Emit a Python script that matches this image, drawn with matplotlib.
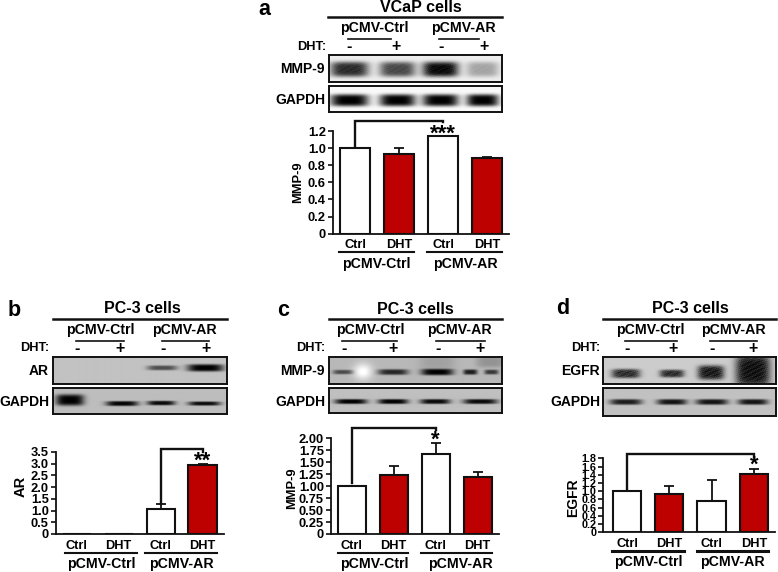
import numpy as np
import matplotlib
matplotlib.use("Agg")
import matplotlib.pyplot as plt

plt.rcParams['font.family'] = ['Liberation Sans', 'DejaVu Sans']
plt.rcParams['font.weight'] = 'bold'

W, H = 778, 572
RED = '#bd0000'
DARK = '#111111'

# Data
categories = ['Ctrl', 'DHT', 'Ctrl', 'DHT']
groups = ['pCMV-Ctrl', 'pCMV-AR']

a_values = [1.0, 0.93, 1.14, 0.89]
a_errors = [0.0, 0.07, 0.005, 0.005]
a_ticks = ['0', '0.2', '0.4', '0.6', '0.8', '1.0', '1.2']

b_values = [0.0, 0.0, 1.08, 2.93]
b_errors = [0.0, 0.0, 0.19, 0.07]
b_ticks = ['0', '0.5', '1.0', '1.5', '2.0', '2.5', '3.0', '3.5']

c_values = [1.01, 1.23, 1.67, 1.20]
c_errors = [0.0, 0.20, 0.23, 0.09]
c_ticks = ['0', '0.25', '0.50', '0.75', '1.00', '1.25', '1.50', '1.75', '2.00']

d_values = [1.0, 0.92, 0.76, 1.43]
d_errors = [0.0, 0.21, 0.52, 0.10]
d_ticks = ['0', '0.2', '0.4', '0.6', '0.8', '1.0', '1.2', '1.4', '1.6', '1.8']

# band darkness per lane in the blots
a_mmp9_bands = [0.85, 0.72, 1.0, 0.32]
a_gapdh_bands = [1.0, 1.0, 1.0, 1.0]
b_ar_bands = [0.0, 0.0, 0.6, 1.0]
b_gapdh_bands = [1.0, 0.98, 0.95, 0.95]
c_mmp9_bands = [0.6, 0.8, 1.0, 0.85]
c_gapdh_bands = [1.0, 1.0, 0.95, 0.95]
d_egfr_bands = [0.85, 0.85, 0.95, 1.0]
d_gapdh_bands = [0.85, 0.9, 0.9, 0.9]


def pixel_axes(x0, y0, x1, y1):
    return fig.add_axes([x0 / W, 1 - y1 / H, (x1 - x0) / W, (y1 - y0) / H])


# one grey blot strip, bands are (centre x, centre y, half width, half height, darkness)
def draw_blot(box, background, bands, lights=(), grain=0.0):
    x0, y0, x1, y1 = box
    xs, ys = np.meshgrid(np.arange(x0, x1, 0.5), np.arange(y0, y1, 0.5))
    img = np.full(xs.shape, background, dtype=float)
    # speckle from crossed sine waves
    speck = np.sin(xs * 2.3 + ys * 1.1) * np.sin(xs * 1.1 - ys * 2.7) * np.sin(xs * 0.37 + ys * 0.71)
    for cx, cy, hw, hh, dark in bands:
        blob = np.exp(-((xs - cx) / hw) ** 4) * np.exp(-((ys - cy) / hh) ** 4)
        blob = np.clip(blob * (1 + grain * speck), 0, 1)
        img = img * (1 - dark * blob)
    for cx, cy, hw, hh, gain in lights:
        blob = np.exp(-((xs - cx) / hw) ** 2) * np.exp(-((ys - cy) / hh) ** 2)
        img = img + gain * blob
    ax = pixel_axes(x0, y0, x1, y1)
    ax.imshow(np.clip(img, 0, 1), cmap='gray', vmin=0, vmax=1, aspect='auto',
              interpolation='bilinear')
    ax.set_xticks([])
    ax.set_yticks([])
    for s in ax.spines.values():
        s.set_linewidth(1.4)
        s.set_color(DARK)


# header above the blots: cell line, plasmid names and DHT signs
def draw_header(letter, letter_x, letter_y, title, title_x, title_y, line_y, line_x,
                names_x, names_y, under_y, under_x, dht_x, dht_y, signs_x):
    over.text(letter_x, letter_y, letter, fontsize=15.5, ha='center', va='baseline')
    over.text(title_x, title_y, title, fontsize=11.5, ha='center', va='center')
    over.plot(line_x, [line_y, line_y], color=DARK, lw=1.8)
    for n, x in zip(groups, names_x):
        over.text(x, names_y, n, fontsize=10.2, ha='center', va='center')
    for xs in under_x:
        over.plot(xs, [under_y, under_y], color=DARK, lw=1.2)
    over.text(dht_x, dht_y, 'DHT:', fontsize=9.2, ha='right', va='center')
    for s, x in zip(['-', '+', '-', '+'], signs_x):
        over.text(x, dht_y, s, fontsize=11.5, ha='center', va='center')


# bar chart under the blots
def draw_bars(box, values, errors, ticks, step, ylabel, label_x, label_y, label_size, xlim,
              bracket, star, star_y, group_lines, group_x, line_y, group_y,
              tick_size=9.3, line_lw=1.5):
    ax = pixel_axes(*box)
    pos = np.arange(len(values))
    colors = ['white', RED, 'white', RED]
    ax.bar(pos, values, width=0.67, color=colors, edgecolor=DARK, linewidth=1.5, zorder=2)
    for p, v, e in zip(pos, values, errors):
        if v > 0:
            ax.errorbar(p, v, yerr=[[0], [e]], color=DARK, capsize=3.5, lw=1.3,
                        capthick=1.3, zorder=1)
    ax.set_xlim(*xlim)
    ax.set_ylim(0, step * (len(ticks) - 1))
    ax.set_yticks(step * np.arange(len(ticks)))
    ax.set_yticklabels(ticks, fontsize=tick_size)
    ax.set_xticks(pos)
    ax.set_xticklabels(categories, fontsize=9.2)
    ax.tick_params(axis='x', length=0, pad=4)
    ax.tick_params(axis='y', length=3.5, width=1.2, pad=1.5, color=DARK)
    ax.patch.set_alpha(0)
    for s in ['top', 'right']:
        ax.spines[s].set_visible(False)
    for s in ['left', 'bottom']:
        ax.spines[s].set_linewidth(1.3)
        ax.spines[s].set_color(DARK)

    bx0, bx1, low, high, tail = bracket
    ax.plot([bx0, bx0, bx1, bx1], [low, high, high, tail], color=DARK, lw=1.7,
            clip_on=False, solid_joinstyle='miter', zorder=3)
    ax.text(bx1, star_y, star, fontsize=16, ha='center', va='center', clip_on=False)

    over.text(label_x, label_y, ylabel, fontsize=label_size, rotation=90,
              ha='center', va='center')
    for xs in group_lines:
        over.plot(xs, [line_y, line_y], color=DARK, lw=line_lw)
    for n, x in zip(groups, group_x):
        over.text(x, group_y, n, fontsize=10.2, ha='center', va='center')


fig = plt.figure(figsize=(W / 100, H / 100), dpi=100, facecolor='white')
over = fig.add_axes([0, 0, 1, 1])
over.set_xlim(0, W)
over.set_ylim(H, 0)
over.axis('off')
over.set_zorder(5)

# ---- panel a
draw_header('a', 264.5, 15, 'VCaP cells', 421, 8, 16.7, [328, 502], [374, 463], 28.3, 39,
            [[348, 391], [439, 479]], 326, 47, [349, 396, 441, 484])
over.text(325, 69, 'MMP-9', fontsize=10, ha='right', va='center')
over.text(325, 100, 'GAPDH', fontsize=10, ha='right', va='center')
lanes = [349, 397, 440, 482]
widths = [19, 18, 18, 16]
draw_blot((328.7, 55, 501.7, 81.7), 0.93,
          [(x, 69, w, 7.5, d) for x, w, d in zip(lanes, widths, a_mmp9_bands)], grain=0.35)
draw_blot((328.7, 86, 501.7, 111.7), 0.98,
          [(x, 100, w, 6, d) for x, w, d in zip(lanes, widths, a_gapdh_bands)])
draw_bars((332.7, 131, 508.7, 233.7), a_values, a_errors, a_ticks, 0.2, 'MMP-9', 298, 181.7, 9.3,
          (-0.507, 3.49), (0, 2, 1.02, 1.32, 1.30), '***', 1.16,
          [[339.3, 414.3], [426.7, 502.3]], [376, 465], 251.7, 264)

# ---- panel b
draw_header('b', 14, 315.7, 'PC-3 cells', 142, 308.3, 318.7, [53.3, 226.7], [100, 184], 329.7, 341.3,
            [[76, 124.3], [161.7, 209.3]], 49.3, 348.3, [77, 120, 163, 205.7])
over.text(49, 371, 'AR', fontsize=10, ha='right', va='center')
over.text(49, 402, 'GAPDH', fontsize=10, ha='right', va='center')
lanes = [162, 205]
draw_blot((53.3, 356.7, 226.7, 384.3), 0.76,
          [(x, 368.3, w, h, d) for x, w, h, d in
           zip(lanes, [15, 18], [2.4, 3.6], b_ar_bands[2:])])
draw_blot((53.3, 388, 226.7, 414.3), 0.74,
          [(x, y, w, h, d) for x, y, w, h, d in
           zip([70, 122, 161, 204], [400.5, 404, 403.5, 404], [14, 16, 14, 16],
               [5.5, 2.4, 2.2, 2], b_gapdh_bands)])
draw_bars((55.7, 452, 223.5, 534), b_values, b_errors, b_ticks, 0.5, 'AR', 21, 486.7, 10.5,
          (-0.5, 3.5), (2, 3, 1.30, 3.63, 3.50), '**', 3.1,
          [[65, 137], [145, 217]], [101, 181], 553, 564)

# ---- panel c
draw_header('c', 283, 315.7, 'PC-3 cells', 415.7, 309, 318.7, [329, 502], [370, 459.3], 329.7, 341,
            [[342.3, 397], [435.7, 484.7]], 325, 348.3, [344, 393.3, 437.7, 480])
over.text(325, 371, 'MMP-9', fontsize=10, ha='right', va='center')
over.text(325, 402, 'GAPDH', fontsize=10, ha='right', va='center')
draw_blot((329.3, 356.7, 501.7, 383.7), 0.72,
          [(x, 371.5, w, h, d) for x, w, h, d in
           zip([343, 393, 437, 470], [10, 15, 16, 7], [2.2, 2.8, 3.2, 2.6], c_mmp9_bands)]
          + [(491, 371.5, 7, 2.4, 0.7), (490, 361, 14, 6, 0.2), (437, 362, 18, 7, 0.12)],
          lights=[(363, 371, 9, 8, 0.3)])
draw_blot((329.3, 388, 501.7, 413.3), 0.75,
          [(x, 402, w, 2.4, d) for x, w, d in
           zip([351, 393, 435, 480], [16, 15, 15, 17], c_gapdh_bands)])
draw_bars((330.7, 438.3, 498.7, 534), c_values, c_errors, c_ticks, 0.25, 'MMP-9', 291.7, 488, 9.3,
          (-0.5, 3.5), (0, 2, 1.06, 2.22, 2.17), '*', 1.95,
          [[338, 408], [421, 492]], [374, 460], 553, 564)

# ---- panel d
draw_header('d', 563, 314, 'PC-3 cells', 690.7, 308.3, 318.7, [603.3, 776], [650, 733.3], 329.7, 341,
            [[625, 676.7], [710, 757.3]], 600, 348.3, [626.7, 672.7, 712.3, 753.3])
over.text(600, 371, 'EGFR', fontsize=10, ha='right', va='center')
over.text(600, 402, 'GAPDH', fontsize=10, ha='right', va='center')
draw_blot((603.3, 356.7, 776, 383.7), 0.8,
          [(x, y, w, h, d) for x, y, w, h, d in
           zip([626, 672, 711, 753], [373, 373, 372, 370], [14, 12, 13, 17],
               [4.5, 3.8, 7, 16], d_egfr_bands)], grain=0.8)
draw_blot((603.3, 388, 776, 415.7), 0.76,
          [(x, 401.7, w, 2.8, d) for x, w, d in
           zip([626, 672, 712, 753], [16, 15, 16, 15], d_gapdh_bands)])
draw_bars((603.3, 458.3, 775, 532.3), d_values, d_errors, d_ticks, 0.2, 'EGFR', 573, 497.7, 10,
          (-0.56, 3.5), (0, 3, 1.05, 1.90, 1.83), '*', 1.62,
          [[612, 684], [697, 768]], [648, 732], 551, 562, tick_size=7.8, line_lw=2.2)

fig.savefig('out.png', dpi=100)
